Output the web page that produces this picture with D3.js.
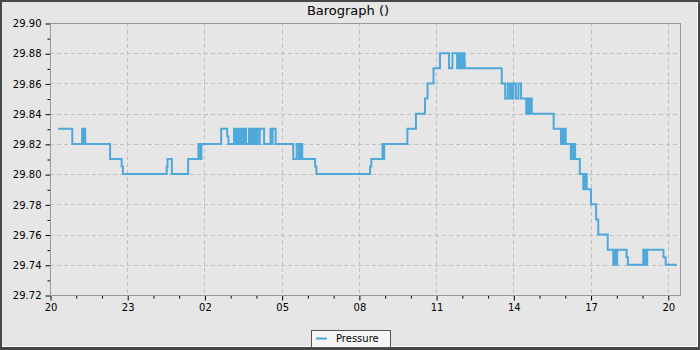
<!DOCTYPE html>
<html><head><meta charset="utf-8">
<script src="https://cdn.jsdelivr.net/npm/d3@7"></script>
<style>html,body{margin:0;padding:0;background:#e6e6e6;}svg{display:block;}</style>
</head><body>
<script>
// minutes after 20:00 (start of the day shown)
const minutes = [19,52,75,78,80,82,140,167,170,272,274,284,322,346,348,350,351,353,399,413,416,
 429,432,434,437,439,441,445,448,450,453,455,457,464,466,468,471,473,477,478,481,483,488,489,499,
 514,517,519,526,567,575,580,582,584,586,588,618,621,746,749,775,777,779,833,853,874,880,894,909,
 930,938,949,952,954,956,959,963,966,967,1053,1061,1067,1072,1076,1078,1080,1086,1092,1098,
 1110,1113,1115,1119,1123,1174,1191,1193,1196,1199,1202,1214,1218,1219,1221,1224,1235,1243,1246,
 1248,1249,1251,1261,1273,1278,1300,1313,1316,1318,1322,1344,1347,1383,1386,1388,1390,1392,1430,1435,1461];
const pressure = [29.83,29.82,29.83,29.82,29.83,29.82,29.81,29.805,29.80,29.805,29.81,29.80,29.81,29.82,29.81,29.82,29.81,29.82,29.83,29.825,29.82,
 29.83,29.82,29.83,29.82,29.83,29.82,29.83,29.82,29.83,29.82,29.83,29.82,29.83,29.82,29.83,29.82,29.83,29.82,29.83,29.82,29.83,29.82,29.83,29.82,
 29.83,29.82,29.83,29.82,29.81,29.82,29.81,29.82,29.81,29.82,29.81,29.805,29.80,29.805,29.81,29.82,29.81,29.82,29.83,29.84,29.85,29.86,29.87,29.88,
 29.87,29.88,29.87,29.88,29.87,29.88,29.87,29.88,29.875,29.87,29.86,29.85,29.86,29.85,29.86,29.85,29.86,29.85,29.86,29.85,
 29.84,29.85,29.84,29.85,29.84,29.83,29.82,29.83,29.82,29.83,29.82,29.81,29.82,29.81,29.82,29.81,29.80,29.79,29.80,
 29.79,29.80,29.79,29.78,29.77,29.76,29.75,29.74,29.75,29.74,29.75,29.745,29.74,29.75,29.74,29.75,29.74,29.75,29.745,29.74,29.74];
const xTickMinutes = [0,180,360,540,720,900,1080,1260,1440];
const xTickLabels = ["20","23","02","05","08","11","14","17","20"];
const yTicks = [29.72,29.74,29.76,29.78,29.80,29.82,29.84,29.86,29.88,29.90];
const title = "Barograph ()";
const seriesName = "Pressure";

const W = 700, H = 350;
const m = {left:50, right:680, top:23, bottom:295};
const svg = d3.select("body").append("svg").attr("width",W).attr("height",H)
  .style("font-family","'DejaVu Sans', sans-serif");

// frame / border
svg.append("rect").attr("x",0).attr("y",0).attr("width",W).attr("height",H).attr("fill","#474747");
svg.append("rect").attr("x",2).attr("y",2).attr("width",696).attr("height",345).attr("fill","#ffffff");
svg.append("rect").attr("x",2).attr("y",2).attr("width",695).attr("height",344).attr("fill","#e6e6e6");

const x = d3.scaleLinear().domain([0,1468.5]).range([m.left,m.right]);
const y = d3.scaleLinear().domain([29.72,29.90]).range([m.bottom,m.top]);

// grid
const g = svg.append("g");
g.selectAll(".vg").data(xTickMinutes.slice(1)).join("line")
  .attr("x1",d=>Math.round(x(d))+0.5).attr("x2",d=>Math.round(x(d))+0.5)
  .attr("y1",m.top).attr("y2",m.bottom)
  .attr("stroke","#c0c0c0").attr("stroke-dasharray","4,3");
g.selectAll(".hg").data(yTicks.slice(1,-1)).join("line")
  .attr("y1",d=>Math.round(y(d))+0.5).attr("y2",d=>Math.round(y(d))+0.5)
  .attr("x1",m.left).attr("x2",m.right)
  .attr("stroke","#c0c0c0").attr("stroke-dasharray","4,3");

// axes
const yMinor = d3.range(29.73,29.90,0.02);
const xMinor = d3.range(60,1468,60).filter(d=>d%180!==0);
const yAxis = d3.axisLeft(y).tickValues(yTicks).tickFormat(d3.format(".2f")).tickSize(5).tickPadding(4);
const yAx = svg.append("g").attr("transform",`translate(${m.left+0.5},0.5)`).call(yAxis);
svg.append("g").attr("transform",`translate(${m.left+0.5},0.5)`)
  .call(d3.axisLeft(y).tickValues(yMinor).tickFormat("").tickSize(3)).select(".domain").remove();
const xAxis = d3.axisBottom(x).tickValues(xTickMinutes).tickFormat((d,i)=>xTickLabels[i]).tickSize(5).tickPadding(3);
const xAx = svg.append("g").attr("transform",`translate(0.5,${m.bottom+0.5})`).call(xAxis);
svg.append("g").attr("transform",`translate(0.5,${m.bottom+0.5})`)
  .call(d3.axisBottom(x).tickValues(xMinor).tickFormat("").tickSize(3)).select(".domain").remove();
[yAx,xAx].forEach(a=>{a.select(".domain").remove();a.selectAll("text").attr("font-size",10).attr("fill","#000").attr("font-family","'DejaVu Sans', sans-serif");a.selectAll("line").attr("stroke","#000");});
svg.selectAll(".tick line").attr("stroke","#000");

// plot frame
svg.append("rect").attr("x",m.left+0.5).attr("y",m.top+0.5).attr("width",m.right-m.left).attr("height",m.bottom-m.top)
  .attr("fill","none").attr("stroke","#999");

// line
const data = minutes.map((t,i)=>({t, v:pressure[i]}));
svg.append("path").datum(data)
  .attr("d",d3.line().x(d=>x(d.t)).y(d=>y(d.v)).curve(d3.curveStepAfter))
  .attr("fill","none").attr("stroke","#4ea8da").attr("stroke-width",2);

// title
svg.append("text").attr("x",348).attr("y",15).attr("text-anchor","middle")
  .attr("font-size",13).attr("fill","#000").text(title);

// legend
const lg = svg.append("g");
lg.append("rect").attr("x",311.5).attr("y",330.5).attr("width",79).attr("height",17)
  .attr("fill","#f5f5f5").attr("stroke","#555");
lg.append("line").attr("x1",316).attr("x2",327).attr("y1",338.5).attr("y2",338.5)
  .attr("stroke","#4ea8da").attr("stroke-width",2);
lg.append("text").attr("x",336).attr("y",342).attr("font-size",10).attr("fill","#000").text(seriesName);
</script>
</body></html>
